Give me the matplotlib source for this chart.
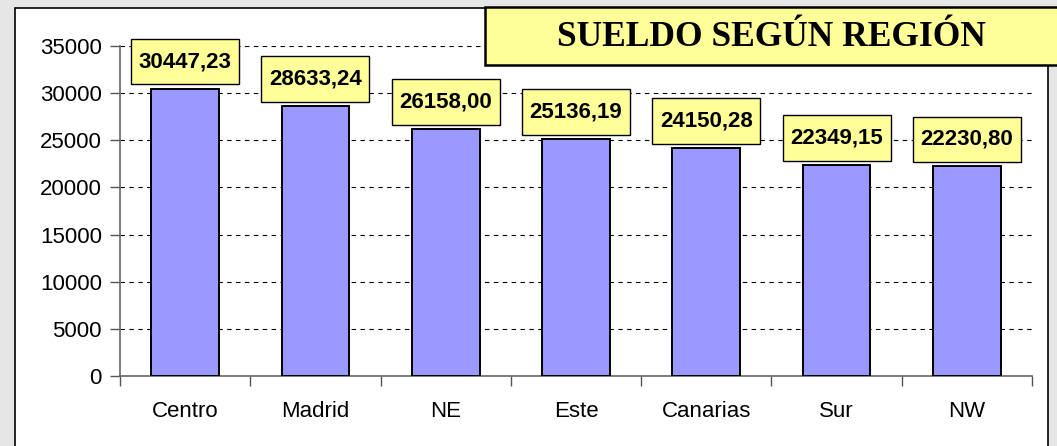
import matplotlib.pyplot as plt
from matplotlib.patches import Rectangle
from matplotlib.path import Path

regiones = ['Centro', 'Madrid', 'NE', 'Este', 'Canarias', 'Sur', 'NW']
sueldos = [30447.23, 28633.24, 26158.00, 25136.19, 24150.28, 22349.15, 22230.80]
etiquetas = ['30447,23', '28633,24', '26158,00', '25136,19', '24150,28', '22349,15', '22230,80']
yticks = [0, 5000, 10000, 15000, 20000, 25000, 30000, 35000]

W, H = 1057, 446
fig = plt.figure(figsize=(W / 100, H / 100), dpi=100)
fig.patch.set_facecolor('#e6e6e6')

# white chart area
fig.patches.append(Rectangle((15 / W, -0.05), (1048 - 15) / W, 1.05 - 8 / H,
                             transform=fig.transFigure, facecolor='white',
                             edgecolor='black', linewidth=1.2, zorder=-1))

ax = fig.add_axes([120 / W, 1 - 376 / H, (1032 - 120) / W, (376 - 46) / H])
ax.patch.set_alpha(0)

x = range(len(regiones))
ax.bar(x, sueldos, width=0.52, color='#9999ff', edgecolor='black', linewidth=1.4, zorder=3)

ax.set_xlim(-0.5, len(regiones) - 0.5)
ax.set_ylim(0, 35000)
ax.set_yticks(yticks)
ax.set_yticklabels([str(t) for t in yticks], fontsize=16, fontname='Liberation Sans')
ax.yaxis.grid(True, linestyle=(0, (4, 4)), color='black', linewidth=0.8, zorder=1)

ax.set_xticks(list(x))
ax.set_xticklabels(regiones, fontsize=16, fontname='Liberation Sans')
ax.tick_params(axis='x', length=0, pad=18)
ax.set_xticks([i - 0.5 for i in range(len(regiones) + 1)], minor=True)
ax.tick_params(axis='x', which='minor', length=7, color='#555555', width=1)
ax.tick_params(axis='y', length=7, color='#555555', width=1, pad=6)

for s in ['top', 'right']:
    ax.spines[s].set_visible(False)
for s in ['left', 'bottom']:
    ax.spines[s].set_color('#666666')
    ax.spines[s].set_linewidth(1.2)


def caja(x0, y0, width, height, mutation_size):
    # label box: narrower side padding, taller top/bottom padding
    px = 0.34 * mutation_size
    py = 0.55 * mutation_size
    return Path([(x0 - px, y0 - py), (x0 + width + px, y0 - py),
                 (x0 + width + px, y0 + height + py), (x0 - px, y0 + height + py),
                 (x0 - px, y0 - py)], closed=True)


for i, (v, t) in enumerate(zip(sueldos, etiquetas)):
    ax.annotate(t, (i, v), xytext=(0, 12), textcoords='offset points',
                ha='center', va='bottom', fontsize=16, fontweight='bold',
                fontname='Liberation Sans', zorder=5,
                bbox=dict(boxstyle=caja, facecolor='#ffff99',
                          edgecolor='black', linewidth=1))

# title box
fig.patches.append(Rectangle((485 / W, 1 - 65 / H), 0.6, (65 - 7) / H,
                             transform=fig.transFigure, facecolor='#ffff99',
                             edgecolor='black', linewidth=1.8, zorder=10))
fig.text(771 / W, 1 - 38 / H, 'SUELDO SEGÚN REGIÓN', fontsize=25.5, fontweight='bold',
         fontname='Liberation Serif', ha='center', va='center', zorder=11)

fig.savefig('out.png', dpi=100, facecolor=fig.get_facecolor())
